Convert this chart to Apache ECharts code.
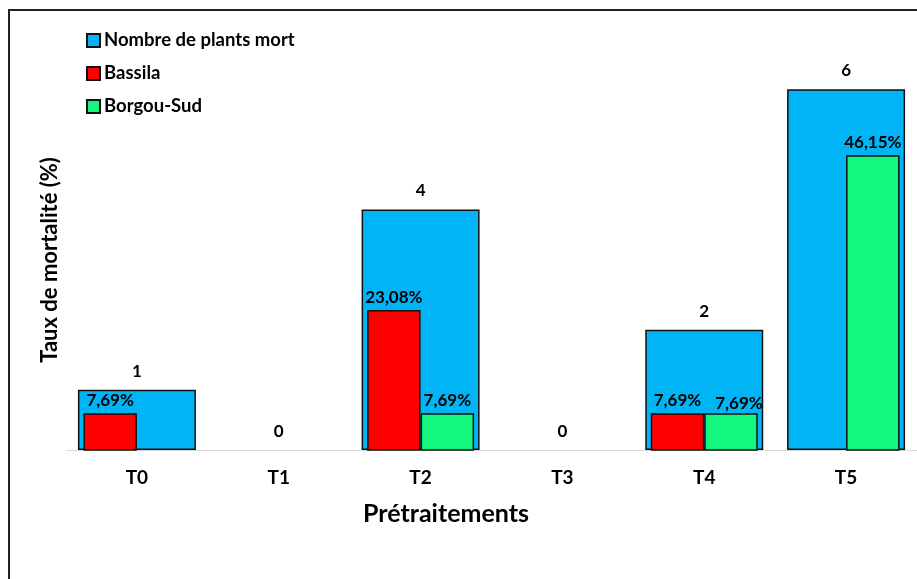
<!DOCTYPE html>
<html>
<head>
<meta charset="utf-8">
<script src="https://cdn.jsdelivr.net/npm/echarts@6/dist/echarts.min.js"></script>
<style>
  html, body { margin: 0; padding: 0; background: #fff; }
  #chart { width: 917px; height: 579px; }
</style>
</head>
<body>
<div id="chart"></div>
<script>
// Treatments and observed mortality
const categories = ['T0', 'T1', 'T2', 'T3', 'T4', 'T5'];
const deadPlants = [1, 0, 4, 0, 2, 6];            // Nombre de plants mort
const bassila = [7.69, null, 23.08, null, 7.69, null];   // % Bassila
const borgouSud = [null, null, 7.69, null, 7.69, 46.15]; // % Borgou-Sud

const FONT = 'Lato';
const pct = v => String(v).replace('.', ',') + '%';

const chart = echarts.init(document.getElementById('chart'));

const labelStyle = {
  show: true,
  position: 'top',
  color: '#000',
  fontFamily: FONT,
  fontWeight: 'bold',
  fontSize: 17
};

// zero counts keep their label but draw no outline
const deadPlantsData = deadPlants.map(v =>
  v === 0 ? { value: v, itemStyle: { borderWidth: 0 } } : v
);

chart.setOption({
  backgroundColor: '#fff',
  animation: false,
  legend: {
    orient: 'vertical',
    left: 86,
    top: 31,
    padding: 0,
    itemWidth: 13,
    itemHeight: 13,
    itemGap: 14,
    icon: 'rect',
    textStyle: { color: '#000', fontFamily: FONT, fontWeight: 'bold', fontSize: 18.5, lineHeight: 18.5, padding: [0, 0, 0, -1] },
    data: ['Nombre de plants mort', 'Bassila', 'Borgou-Sud']
  },
  grid: { left: 66, right: 0, top: 29, bottom: 129, containLabel: false },
  xAxis: [
    {
      type: 'category',
      data: categories,
      axisLine: { show: true, lineStyle: { color: '#d9d9d9', width: 1 } },
      axisTick: { show: false },
      axisLabel: { color: '#000', fontFamily: FONT, fontWeight: 'bold', fontSize: 19, margin: 18 }
    },
    {
      type: 'category',
      data: categories,
      show: false
    }
  ],
  yAxis: [
    { type: 'value', min: 0, max: 7, show: false, splitLine: { show: false } },
    { type: 'value', min: 2.2, max: 65, show: false, splitLine: { show: false } }
  ],
  series: [
    {
      name: 'Nombre de plants mort',
      type: 'bar',
      xAxisIndex: 0,
      yAxisIndex: 0,
      barWidth: 118,
      data: deadPlantsData,
      itemStyle: { color: '#00b4f6', borderColor: '#111', borderWidth: 1.5 },
      label: Object.assign({}, labelStyle, { distance: 10 }),
      z: 1
    },
    {
      name: 'Bassila',
      type: 'bar',
      xAxisIndex: 1,
      yAxisIndex: 1,
      barWidth: 53.5,
      barGap: 0,
      clip: true,
      data: bassila,
      itemStyle: { color: '#ff0000', borderColor: '#111', borderWidth: 1.5 },
      label: Object.assign({}, labelStyle, { distance: 4, formatter: p => pct(p.value) }),
      z: 3
    },
    {
      name: 'Borgou-Sud',
      type: 'bar',
      xAxisIndex: 1,
      yAxisIndex: 1,
      barWidth: 53.5,
      barGap: 0,
      clip: true,
      data: borgouSud.map((v, i) => (i === 4 ? { value: v, label: { offset: [8, 3] } } : v)),
      itemStyle: { color: '#14f77f', borderColor: '#111', borderWidth: 1.5 },
      label: Object.assign({}, labelStyle, { distance: 4, formatter: p => pct(p.value) }),
      z: 3
    }
  ],
  graphic: [
    {
      type: 'rect',
      shape: { x: 9, y: 10, width: 960, height: 640 },
      style: { fill: 'none', stroke: '#222', lineWidth: 2 },
      silent: true
    },
    {
      type: 'text',
      x: 446,
      y: 514,
      style: {
        text: 'Prétraitements',
        fill: '#000',
        font: 'bold 25px ' + FONT,
        textAlign: 'center',
        textVerticalAlign: 'middle'
      }
    },
    {
      type: 'text',
      x: 50,
      y: 260,
      rotation: Math.PI / 2,
      style: {
        text: 'Taux de mortalité (%)',
        fill: '#000',
        font: 'bold 22px ' + FONT,
        textAlign: 'center',
        textVerticalAlign: 'middle'
      }
    }
  ]
});
</script>
</body>
</html>
